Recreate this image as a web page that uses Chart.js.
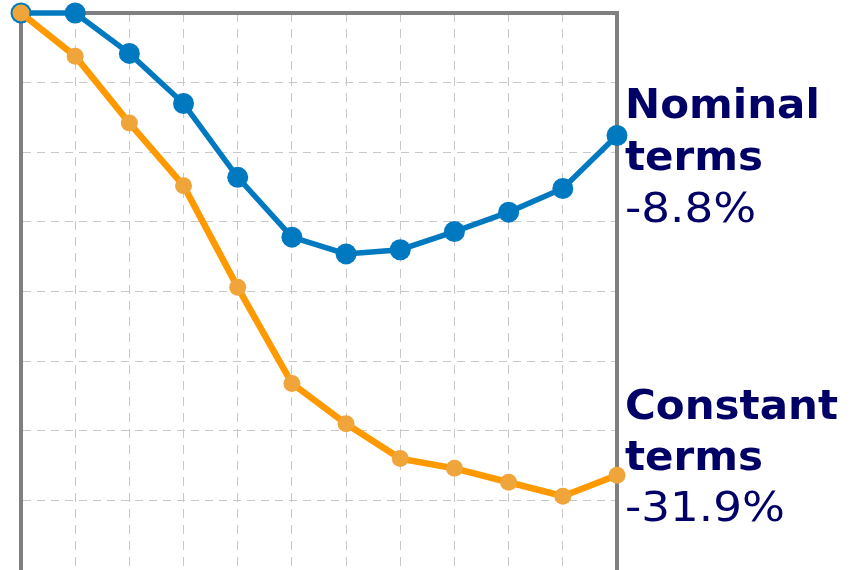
<!DOCTYPE html>
<html>
<head>
<meta charset="utf-8">
<script src="https://cdn.jsdelivr.net/npm/chart.js@4"></script>
<style>
  body { margin: 0; background: #fff; }
  #wrap { position: relative; width: 854px; height: 570px; overflow: hidden; }
  .lbl { position: absolute; left: 625px; color: #000066; font-family: "DejaVu Sans", sans-serif;
         font-size: 40px; line-height: 52px; white-space: nowrap; }
  .lbl b { display: inline-block; font-weight: bold; transform: scaleX(1.05); transform-origin: left center; }
  .lbl .pct { display: inline-block; transform: scaleX(1.13); transform-origin: left center; }
</style>
</head>
<body>
<div id="wrap">
  <canvas id="chart" width="854" height="570"></canvas>
  <div class="lbl" id="lblNominal" style="top:78px"><b>Nominal</b><br><b>terms</b><br><span class="pct">-8.8%</span></div>
  <div class="lbl" id="lblConstant" style="top:380px;line-height:51px"><b>Constant</b><br><b>terms</b><br><span class="pct">-31.9%</span></div>
</div>
<script>
// periods (not labelled on the chart)
var periods = ['1', '2', '3', '4', '5', '6', '7', '8', '9', '10', '11', '12'];

// cumulative change, %
var nominal  = [0, 0, -2.9, -6.5, -11.8, -16.1, -17.3, -17.0, -15.7, -14.3, -12.6, -8.8];
var constant = [0, -3.1, -7.9, -12.4, -19.7, -26.6, -29.5, -32.0, -32.7, -33.7, -34.7, -33.2];

var yTicks = { min: -40, max: 0, step: 5 };

const frameColor = '#7f7f7f'
const gridColor = '#c8c8c8'
const blueColor = '#0079c1'
const orangeLine = '#ff9900'
const orangePoint = '#efa53a'

var ctx = document.getElementById('chart')

var lineChart = new Chart(ctx, {
  type: 'line',
  data: {
    labels: periods,
    datasets: [{
      label: 'Nominal terms',
      data: nominal,
      borderColor: blueColor,
      backgroundColor: blueColor,
      pointBackgroundColor: blueColor,
      pointBorderWidth: 0,
      pointRadius: 10.5,
      borderWidth: 5.5,
      lineTension: 0,
      fill: false,
      clip: false,
      order: 1
    }, {
      label: 'Constant terms',
      data: constant,
      borderColor: orangeLine,
      backgroundColor: orangePoint,
      pointBackgroundColor: orangePoint,
      pointBorderWidth: 0,
      pointRadius: 8.5,
      borderWidth: 6.5,
      lineTension: 0,
      fill: false,
      clip: false,
      order: 0
    }]
  },
  options: {
    responsive: false,
    animation: false,
    events: [],
    layout: { autoPadding: false, padding: { left: 21, top: 13, right: 237, bottom: 0 } },
    plugins: { legend: { display: false }, tooltip: { enabled: false } },
    scales: {
      x: {
        position: 'bottom',
        ticks: { display: false },
        grid: { color: gridColor, lineWidth: 1, drawTicks: false },
        border: { display: false, dash: [9, 7] }
      },
      y: {
        position: 'left',
        min: yTicks.min,
        max: yTicks.max,
        ticks: { display: false, stepSize: yTicks.step },
        grid: { color: gridColor, lineWidth: 1, drawTicks: false },
        border: { display: true, color: frameColor, width: 4, dash: [8, 6] }
      },
      xTop: {
        type: 'category',
        position: 'top',
        ticks: { display: false },
        grid: { color: 'rgba(0,0,0,0)', drawTicks: false },
        border: { display: true, color: frameColor, width: 4 }
      },
      yRight: {
        type: 'linear',
        position: 'right',
        min: yTicks.min,
        max: yTicks.max,
        ticks: { display: false, stepSize: yTicks.step },
        grid: { color: 'rgba(0,0,0,0)', drawTicks: false },
        border: { display: true, color: frameColor, width: 4 }
      }
    }
  }
});
</script>
</body>
</html>
